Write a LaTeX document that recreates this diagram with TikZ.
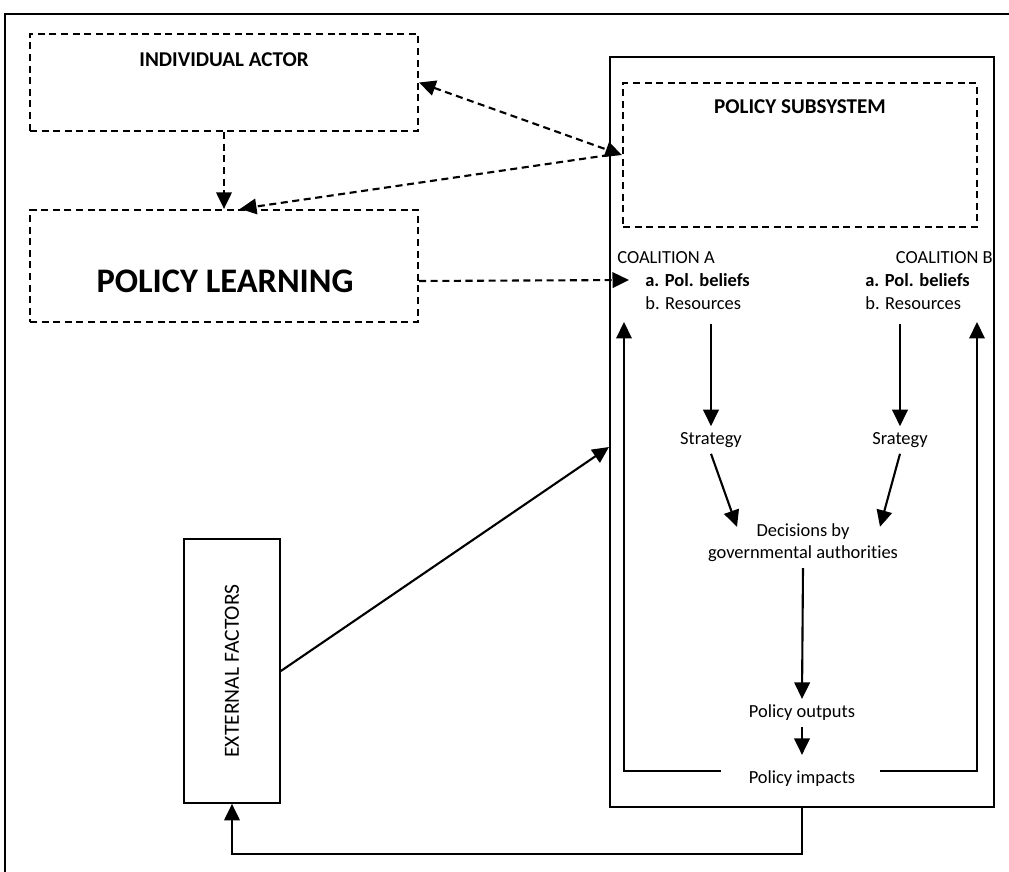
\documentclass[tikz,border=0pt]{standalone}
\usepackage{fontspec}
\setmainfont[Ligatures=NoCommon]{Carlito}
\usetikzlibrary{arrows.meta,calc}

\begin{document}
\begin{tikzpicture}[
x=0.02cm, y=-0.02cm,
>={Triangle[length=3.3mm,width=3.1mm]},
dbox/.style={draw, dash pattern=on 4pt off 2.6pt, line width=1.3pt, inner sep=0pt},
sbox/.style={draw, line width=1pt, inner sep=0pt},
txt/.style={font=\fontsize{10.5}{12.5}\selectfont, align=center},
head/.style={font=\bfseries\fontsize{12}{14}\selectfont},
arrow/.style={->, line width=1.2pt},
darrow/.style={arrow, dash pattern=on 4pt off 2.6pt}
]
\useasboundingbox (0,0) rectangle (1009,872);
\draw[line width=1.6pt] (5,872) |- (1009,14);

\node[dbox, minimum width=7.76cm, minimum height=1.94cm] (ia) at (224,82.5) {};
\node[head] (iat) at (224,60) {INDIVIDUAL ACTOR};
\node[dbox, minimum width=7.76cm, minimum height=2.24cm] (pl) at (224,266) {};
\node[font=\bfseries\fontsize{19.6}{22}\selectfont] (plt) at (225,281) {POLICY LEARNING};

\node[sbox, line width=1.2pt, minimum width=7.68cm, minimum height=15cm] (ps) at (802,432) {};
\node[dbox, minimum width=7.08cm, minimum height=2.88cm] (psd) at (800,155) {};
\node[head] (pst) at (800,107) {POLICY SUBSYSTEM};

\node[txt, anchor=west, inner sep=0pt] (coa) at (617,258) {COALITION A};
\node[txt, anchor=east, inner sep=0pt] (cob) at (993,258) {COALITION B};
\node[txt, anchor=west, inner sep=0pt] (bea) at (645,280) {\textbf{a. Pol. beliefs}};
\node[txt, anchor=west, inner sep=0pt] (rea) at (645,303) {b. Resources};
\node[txt, anchor=west, inner sep=0pt] (beb) at (865,280) {\textbf{a. Pol. beliefs}};
\node[txt, anchor=west, inner sep=0pt] (reb) at (865,303) {b. Resources};

\node[txt] (sa) at (711,440) {Strategy};
\node[txt] (sb) at (900,440) {Srategy};
\node[txt] (dec) at (803,543) {Decisions by\\governmental authorities};
\node[txt] (po) at (802,713) {Policy outputs};
\node[txt] (pi) at (802,779) {Policy impacts};

\node[sbox, minimum width=1.92cm, minimum height=5.28cm] (ef) at (232,671) {};
\node[txt, rotate=90, font=\fontsize{12.3}{14}\selectfont] (eft) at (232,671) {EXTERNAL FACTORS};

\coordinate (fla) at (721,771);
\coordinate (tla) at (624,322);
\coordinate (fra) at (880,771);
\coordinate (tra) at (977,322);
\coordinate (fb) at (232,854);

\draw[darrow] (ia.south) -- (pl.north);
\draw[darrow, <->] (ia.east) -- (psd.west);
\draw[darrow] (ps.west |- psd.west) -- ([xshift=0.32cm]pl.north);
\draw[darrow] (pl.east |- plt) -- ($(bea.west)+(-16,0)$);

\draw[arrow] (sa |- rea.south) ++(0,14) -- (sa);
\draw[arrow] (sb |- reb.south) ++(0,14) -- (sb);
\draw[arrow] (sa.south) -- ($(dec.north)+(-66,9)$);
\draw[arrow] (sb.south) -- ($(dec.north)+(77,9)$);
\draw[arrow] (dec.south) -- (po.north);
\draw[arrow, shorten >=0.2cm] (po.south) -- (pi.north);
\draw[arrow] (fla) -| (tla);
\draw[arrow] (fra) -| (tra);

\draw[arrow] (ef.east) -- ([yshift=-0.3cm]ps.west);
\draw[arrow] (pi |- ps.south) |- (fb) -- (ef.south);
\end{tikzpicture}
\end{document}
